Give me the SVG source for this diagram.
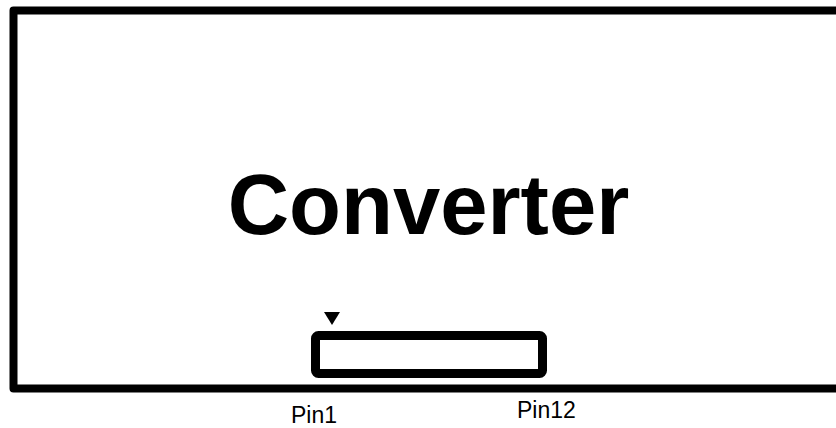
<svg xmlns="http://www.w3.org/2000/svg" width="836" height="428" viewBox="0 0 836 428">
  <style>
    .frame { fill: none; stroke: #000; stroke-width: 8; stroke-linejoin: round; }
    .conn { fill: #fff; stroke: #000; stroke-width: 9; }
    .title { font-family: "Liberation Sans", Arial, sans-serif; font-weight: bold; font-size: 85px; fill: #000; }
    .pin { font-family: "Liberation Sans", Arial, sans-serif; font-size: 23px; fill: #000; }
  </style>
  <g id="converter">
    <path class="frame" d="M 845 10.5 H 13.5 V 388.5 H 845"/>
    <text class="title" x="428.5" y="234" text-anchor="middle">Converter</text>
  </g>
  <g id="connector">
    <rect class="conn" x="315.5" y="335.5" width="227" height="38" rx="3"/>
    <polygon points="324,312 340,312 332,325" fill="#000"/>
  </g>
  <g id="labels">
    <text class="pin" x="291" y="423">Pin1</text>
    <text class="pin" x="517" y="418">Pin12</text>
  </g>
</svg>
